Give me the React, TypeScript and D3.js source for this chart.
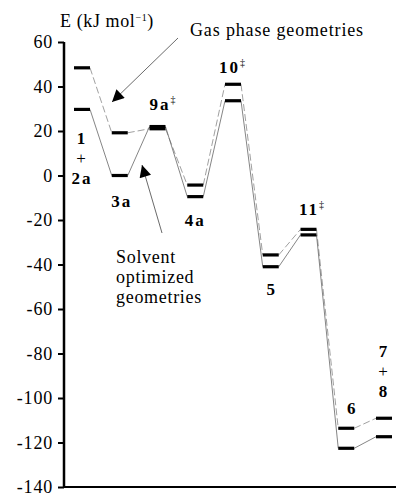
import { useRef, useEffect } from 'react';
import * as d3 from 'd3';

// species along the reaction coordinate
const species = ['1+2a', '3a', '9a', '4a', '10', '5', '11', '6', '7+8'];

// relative energies, kJ/mol
const gasPhase = [48.4, 19.2, 21.0, -4.3, 41.0, -35.7, -24.2, -113.6, -109.1];
const solventOpt = [29.7, 0.0, 22.0, -9.5, 33.6, -41.0, -26.7, -122.6, -117.4];

const yTicks = [60, 40, 20, 0, -20, -40, -60, -80, -100, -120, -140];

// label text per species; ts = transition state mark, base = value of first baseline
const labelLines = [['1', '+', '2a'], ['3a'], ['9a'], ['4a'], ['10'], ['5'], ['11'], ['6'], ['7', '+', '8']];
const labelTS = [false, false, true, false, true, false, true, false, false];
const labelBase = [14.2, -14.2, 29.4, -22.6, 46.0, -53.7, -17.8, -107.0, -81.4];

export default function App() {
  const svgRef = useRef<SVGSVGElement>(null);

  useEffect(() => {
    const svg = d3.select(svgRef.current);
    svg.selectAll('*').remove();

    const width = 396;
    const height = 493;
    const font = 'Liberation Serif, Times New Roman, Times, serif';

    const xScale = d3.scalePoint<string>().domain(species).range([82, 384]);
    const yScale = d3.scaleLinear().domain([-140, 60]).range([487, 42]);
    const half = 8;

    svg.attr('width', width).attr('height', height).style('font-family', font);

    // Axes
    const yAxis = svg.append('g')
      .attr('transform', 'translate(64,0)')
      .call(d3.axisLeft(yScale).tickValues(yTicks).tickSize(6).tickPadding(5).tickFormat((d) => `${d}`));
    yAxis.attr('font-family', null).attr('font-size', null);
    yAxis.select('.domain').attr('stroke', '#000').attr('stroke-width', 2.5).attr('d', `M0,${yScale(60)}V${yScale(-140)}`);
    yAxis.selectAll('.tick line').attr('stroke', '#000').attr('stroke-width', 2);
    yAxis.selectAll('.tick text')
      .style('font-family', font)
      .attr('font-size', 18)
      .attr('letter-spacing', 0.8)
      .attr('fill', '#000');

    svg.append('line')
      .attr('x1', 63).attr('x2', width)
      .attr('y1', yScale(-140)).attr('y2', yScale(-140))
      .attr('stroke', '#000').attr('stroke-width', 2);

    const title = svg.append('text')
      .attr('x', 60).attr('y', 27)
      .attr('letter-spacing', 0.6)
      .style('font-family', font).attr('font-size', 18);
    title.append('tspan').text('E (kJ mol');
    title.append('tspan').attr('font-size', 10).attr('dy', -6).text('−1');
    title.append('tspan').attr('dy', 6).text(')');

    // Connectors between levels
    const connect = (vals: number[], dashed: boolean) => {
      const g = svg.append('g');
      for (let i = 0; i < vals.length - 1; i++) {
        g.append('line')
          .attr('x1', (xScale(species[i]) ?? 0) + half)
          .attr('y1', yScale(vals[i]))
          .attr('x2', (xScale(species[i + 1]) ?? 0) - half)
          .attr('y2', yScale(vals[i + 1]))
          .attr('stroke', dashed ? '#888' : '#666')
          .attr('stroke-width', 0.8)
          .attr('stroke-dasharray', dashed ? '7,3' : null);
      }
    };
    connect(gasPhase, true);
    connect(solventOpt, false);

    // Energy levels
    [gasPhase, solventOpt].forEach((vals) => {
      svg.append('g')
        .selectAll('line')
        .data(vals)
        .join('line')
        .attr('x1', (_d, i) => (xScale(species[i]) ?? 0) - half)
        .attr('x2', (_d, i) => (xScale(species[i]) ?? 0) + half)
        .attr('y1', (d) => yScale(d))
        .attr('y2', (d) => yScale(d))
        .attr('stroke', '#000')
        .attr('stroke-width', 3.2);
    });

    // Species labels
    const labelOffset = [0, 2, 6, 0, 0, 1, 4, 6, 0];
    species.forEach((s, i) => {
      const x = (xScale(s) ?? 0) + labelOffset[i];
      const t = svg.append('text')
        .attr('x', x)
        .attr('y', yScale(labelBase[i]))
        .attr('text-anchor', 'middle')
        .style('font-family', font)
        .attr('font-size', 17)
        .attr('letter-spacing', 2)
        .attr('font-weight', 'bold');
      labelLines[i].forEach((line, j) => {
        const ts = t.append('tspan')
          .attr('x', x)
          .attr('dy', j === 0 ? 0 : 20)
          .attr('font-weight', line === '+' ? 'normal' : 'bold')
          .text(line);
        if (j === labelLines[i].length - 1 && labelTS[i]) {
          ts.append('tspan').attr('font-size', 10).attr('font-weight', 'normal').attr('dy', -7).text('‡');
        }
      });
    });

    // Annotations with arrows
    const defs = svg.append('defs');
    defs.append('marker')
      .attr('id', 'arrowhead')
      .attr('viewBox', '0 0 10 10')
      .attr('refX', 10).attr('refY', 5)
      .attr('markerWidth', 14).attr('markerHeight', 12)
      .attr('markerUnits', 'userSpaceOnUse')
      .attr('orient', 'auto')
      .append('path').attr('d', 'M0,0L10,5L0,10Z').attr('fill', '#000');

    svg.append('text')
      .attr('x', 190).attr('y', 36)
      .attr('letter-spacing', 0.85)
      .style('font-family', font).attr('font-size', 18)
      .text('Gas phase geometries');
    svg.append('line')
      .attr('x1', 178).attr('y1', 38).attr('x2', 112).attr('y2', 102)
      .attr('stroke', '#444').attr('stroke-width', 0.8)
      .attr('marker-end', 'url(#arrowhead)');

    const solv = svg.append('text')
      .attr('letter-spacing', 0.7)
      .style('font-family', font).attr('font-size', 18);
    ['Solvent', 'optimized', 'geometries'].forEach((line, j) => {
      solv.append('tspan').attr('x', 116).attr('y', 263 + j * 20).text(line);
    });
    svg.append('line')
      .attr('x1', 162).attr('y1', 233).attr('x2', 142).attr('y2', 165)
      .attr('stroke', '#444').attr('stroke-width', 0.8)
      .attr('marker-end', 'url(#arrowhead)');
  }, []);

  return (
    <div style={{ position: 'absolute', left: 0, top: 0, width: 396, height: 493, background: '#fff' }}>
      <svg ref={svgRef} />
    </div>
  );
}
